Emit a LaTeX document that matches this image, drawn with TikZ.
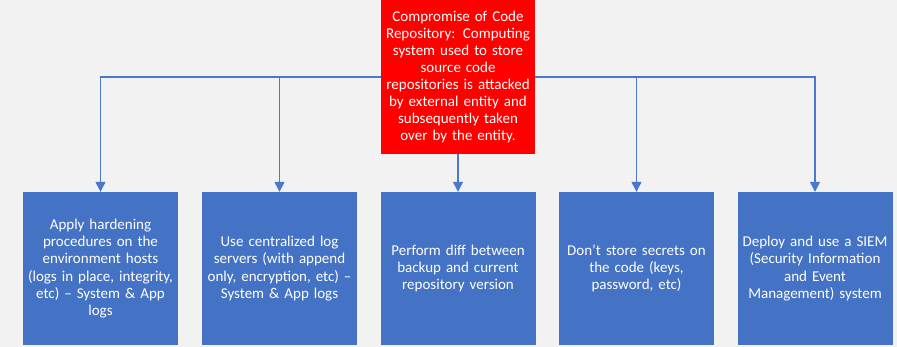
\documentclass[tikz,border=0pt]{standalone}
\usepackage{fontspec}
\setmainfont{Carlito}
\usetikzlibrary{arrows.meta}
\definecolor{pagebg}{HTML}{F2F2F2}
\definecolor{boxblue}{HTML}{4472C4}
\definecolor{linkblue}{HTML}{4A78CC}
\definecolor{alertred}{HTML}{FF0000}
\tikzset{
  root/.style={fill=alertred, draw=none, minimum width=154pt, minimum height=154pt,
    text width=152pt, align=center, text=white, font=\fontsize{15}{17.1}\selectfont, inner sep=0pt},
  leaf/.style={fill=boxblue, draw=none, minimum width=155pt, minimum height=153pt,
    text width=152pt, align=center, text=white, font=\fontsize{15}{17.3}\selectfont, inner sep=0pt},
  link/.style={draw=linkblue, line width=1.3pt, -{Triangle[width=10pt,length=10pt]}},
}
\begin{document}
\begin{tikzpicture}[x=1pt, y=-1pt]
  \fill[pagebg] (0,0) rectangle (897,347);
  \useasboundingbox (0,0) rectangle (897,347);

  \node[root] (root) at (458,77) {Compromise of Code\\Repository: Computing\\system used to store\\source code\\repositories is attacked\\by external entity and\\subsequently taken\\over by the entity.};

  \node[leaf] (harden) at (100.5,268.5) {Apply hardening\\procedures on the\\environment hosts\\(logs in place, integrity,\\etc) – System \& App\\logs};
  \node[leaf] (logsrv) at (279.5,268.5) {Use centralized log\\servers (with append\\only, encryption, etc) –\\System \& App logs};
  \node[leaf] (diff) at (458,268.5) {Perform diff between\\backup and current\\repository version};
  \node[leaf] (secrets) at (636.5,268.5) {Don’t store secrets on\\the code (keys,\\password, etc)};
  \node[leaf] (siem) at (815,268.5) {Deploy and use a SIEM\\(Security Information\\and Event\\Management) system};

  % bus line across the top and drops to each mitigation
  \coordinate (busleft) at (root.west |- 0,77);
  \coordinate (busright) at (root.east |- 0,77);
  \draw[link] (busleft) -| (harden.north);
  \draw[link] (busleft) -| (logsrv.north);
  \draw[link] (busright) -| (secrets.north);
  \draw[link] (busright) -| (siem.north);
  \draw[link] (root.south) -- (diff.north);
\end{tikzpicture}
\end{document}
